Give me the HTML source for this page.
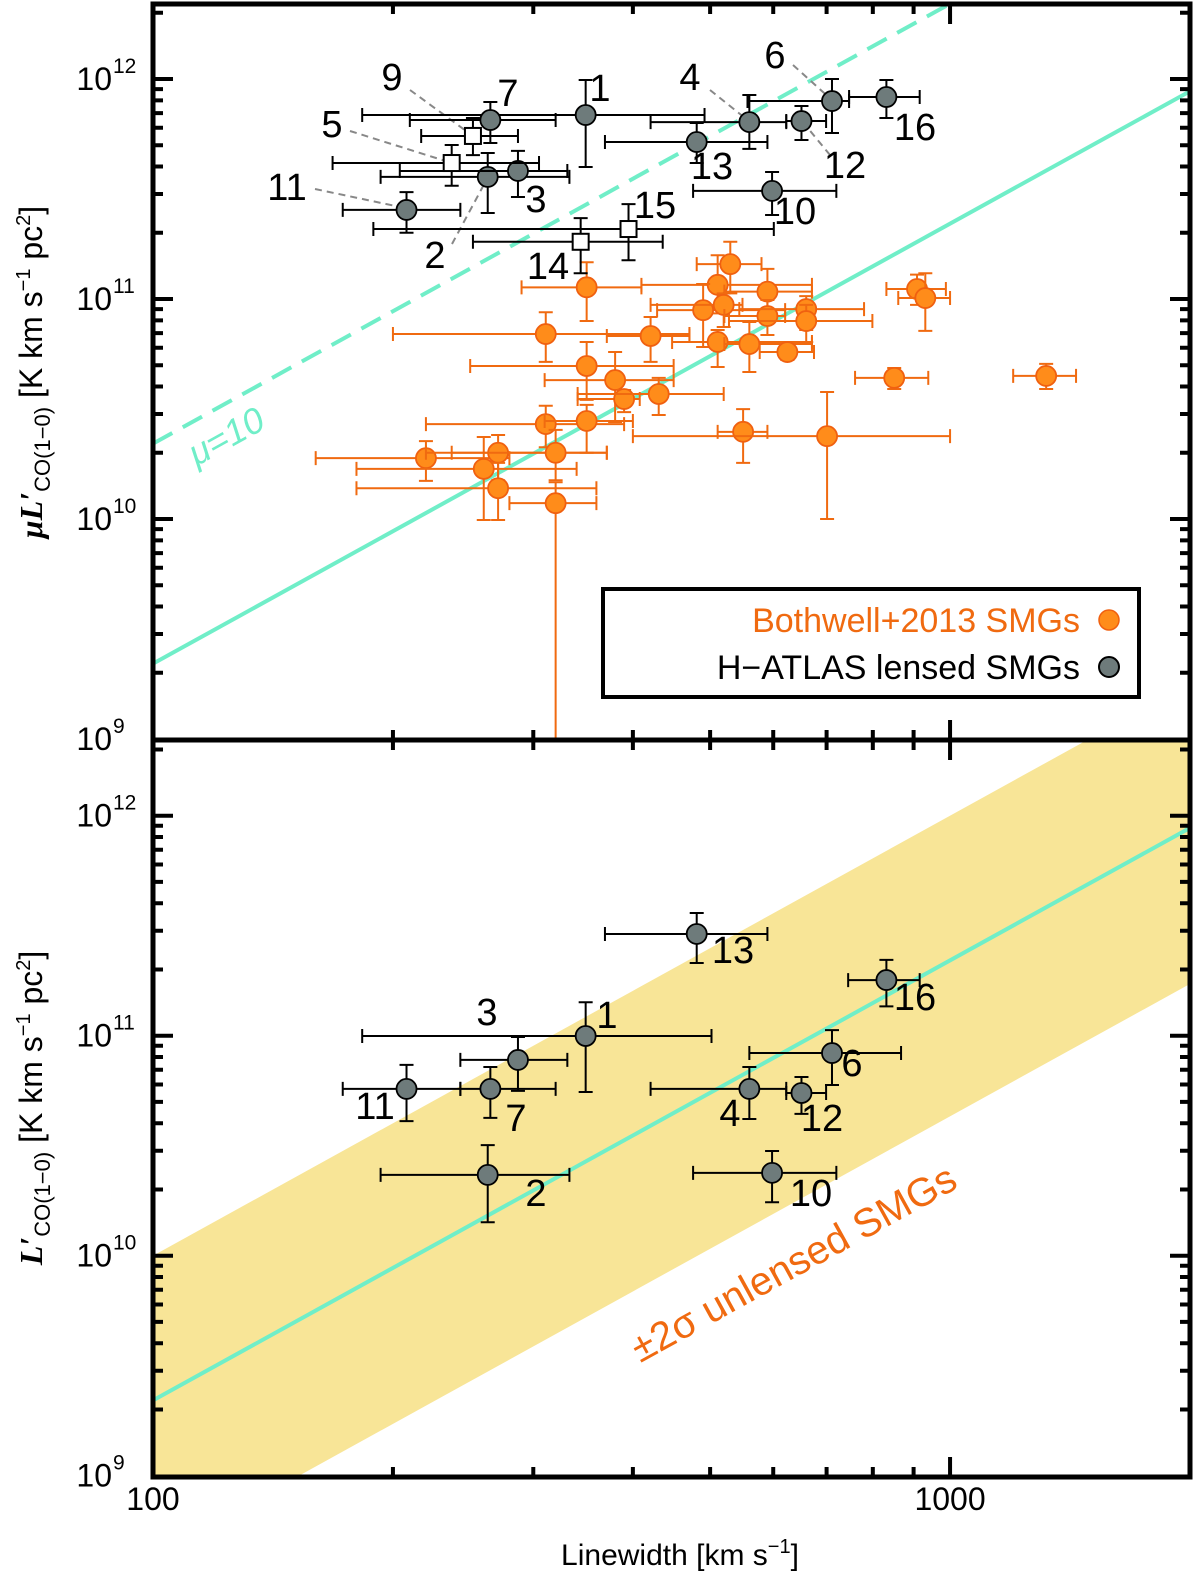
<!DOCTYPE html>
<html><head><meta charset="utf-8"><style>
body{margin:0;background:#fff}
svg text{font-family:"Liberation Sans","DejaVu Sans",sans-serif}
</style></head><body>
<svg id="chart" xmlns="http://www.w3.org/2000/svg" width="1200" height="1583" viewBox="0 0 1200 1583">
<defs>
<clipPath id="clipTop"><rect x="153" y="4" width="1037" height="736"/></clipPath>
<clipPath id="clipBot"><rect x="153" y="740" width="1037" height="737"/></clipPath>
</defs>
<g id="bandLayer" clip-path="url(#clipBot)"></g>
<g id="lineLayerTop" clip-path="url(#clipTop)"></g>
<g id="lineLayerBot" clip-path="url(#clipBot)"></g>
<g id="leaderLayer"></g>
<g id="orangeLayer" clip-path="url(#clipTop)"></g>
<g id="grayTopLayer" clip-path="url(#clipTop)"></g>
<g id="grayBotLayer" clip-path="url(#clipBot)"></g>
<g id="labelLayer"></g>
<g id="axisLayer"></g>

<text x="0" y="0" transform="translate(232,447) rotate(-28.9)" font-size="36" fill="#70eec8" text-anchor="middle" font-style="italic">μ=10</text>
<text x="0" y="0" transform="translate(800,1275) rotate(-28.9)" font-size="40" fill="#f06a10" text-anchor="middle">±2σ unlensed SMGs</text>

<g>
<rect x="603" y="589" width="536" height="108" fill="#fff" stroke="#000" stroke-width="4"/>
<text x="1080" y="632" font-size="34" fill="#f06a10" text-anchor="end">Bothwell+2013 SMGs</text>
<circle cx="1109" cy="620" r="10" fill="#ff8c1a" stroke="#f06010" stroke-width="1.5"/>
<text x="1080" y="679" font-size="34" fill="#000" text-anchor="end">H−ATLAS lensed SMGs</text>
<circle cx="1109" cy="667" r="10" fill="#6e7b7b" stroke="#000" stroke-width="2"/>
</g>

<text transform="translate(42,372) rotate(-90)" font-size="32" text-anchor="middle"><tspan font-family="Liberation Serif" font-style="italic" font-weight="bold">μL′</tspan><tspan font-size="22" dy="8">CO(1−0)</tspan><tspan dy="-8"> [K km s</tspan><tspan font-size="20" dy="-12">−1</tspan><tspan dy="12"> pc</tspan><tspan font-size="20" dy="-12">2</tspan><tspan dy="12">]</tspan></text>
<text transform="translate(42,1108) rotate(-90)" font-size="32" text-anchor="middle"><tspan font-family="Liberation Serif" font-style="italic" font-weight="bold">L′</tspan><tspan font-size="22" dy="8">CO(1−0)</tspan><tspan dy="-8"> [K km s</tspan><tspan font-size="20" dy="-12">−1</tspan><tspan dy="12"> pc</tspan><tspan font-size="20" dy="-12">2</tspan><tspan dy="12">]</tspan></text>
<text x="680" y="1565" font-size="30" text-anchor="middle">Linewidth  [km s<tspan font-size="20" dy="-12">−1</tspan><tspan dy="12">]</tspan></text>
</svg>
<script>
// ---- data ----
const grayTopIds = ["1","2","3","4","5","6","7","9","10","11","12","13","14","15","16"];
const grayTopV   = [349,263,287,560,237,711,265,252,598,208,651,481,344,395,832];
const grayTopVlo = [183,193,204,421,168,557,210,217,476,173,623,369,252,189,747];
const grayTopVhi = [492,333,331,623,305,747,320,287,720,243,699,590,436,601,916];
const grayTopL   = [6.86e11,3.59e11,3.82e11,6.37e11,4.15e11,7.94e11,6.51e11,5.51e11,3.10e11,2.54e11,6.44e11,5.17e11,1.82e11,2.08e11,8.28e11];
const grayTopLhi = [9.9e11,4.61e11,4.71e11,8.46e11,5.01e11,1.0e12,7.86e11,6.65e11,3.78e11,3.06e11,7.54e11,6.31e11,2.33e11,2.70e11,9.9e11];
const grayTopLlo = [3.98e11,2.46e11,2.91e11,4.81e11,3.27e11,5.68e11,5.12e11,4.51e11,2.41e11,2.0e11,5.28e11,4.15e11,1.31e11,1.50e11,6.65e11];
const grayTopSquare = [false,false,false,false,true,false,false,true,false,false,false,false,true,true,false];

const orV   = [350,530,511,590,490,520,590,660,660,311,421,511,560,625,909,931,851,1320,350,380,390,431,311,350,550,701,220,271,260,271,320,320];
const orVlo = [290,481,410,521,429,421,521,544,528,200,371,448,521,577,832,861,760,1200,250,310,341,341,220,310,511,400,160,220,180,180,237,280];
const orVhi = [410,580,671,671,621,549,621,780,799,471,471,671,671,675,988,1000,939,1439,450,450,408,520,390,400,590,1000,280,371,340,360,371,360];
const orL   = [1.13e11,1.44e11,1.16e11,1.08e11,8.9e10,9.4e10,8.37e10,9.0e10,7.94e10,6.93e10,6.79e10,6.38e10,6.24e10,5.74e10,1.11e11,1.01e11,4.38e10,4.47e10,4.96e10,4.28e10,3.51e10,3.70e10,2.70e10,2.79e10,2.49e10,2.38e10,1.89e10,2.0e10,1.69e10,1.38e10,2.0e10,1.18e10];
const orLhi = [1.47e11,1.82e11,1.58e11,1.37e11,1.17e11,1.06e11,9.9e10,1.03e11,9.4e10,8.7e10,8.28e10,7.23e10,7.86e10,5.93e10,1.29e11,1.31e11,4.86e10,5.07e10,6.38e10,5.74e10,3.86e10,4.38e10,3.27e10,3.30e10,3.16e10,3.78e10,2.26e10,2.41e10,2.36e10,1.80e10,2.54e10,1.47e10];
const orLlo = [7.94e10,1.06e11,8.6e10,8.46e10,6.05e10,7.46e10,6.86e10,7.23e10,6.38e10,5.18e10,5.18e10,4.91e10,4.66e10,5.28e10,9.4e10,7.16e10,3.90e10,3.90e10,3.48e10,2.76e10,3.06e10,2.97e10,2.12e10,2.0e10,1.80e10,1.0e10,1.49e10,1.50e10,9.9e9,9.9e9,1.50e10,5e8];

const grayBotIds = ["1","2","3","4","6","7","10","11","12","13","16"];
const grayBotV   = [349,263,287,560,711,265,598,208,651,481,832];
const grayBotVlo = [183,193,243,421,560,243,476,173,623,369,745];
const grayBotVhi = [502,333,331,623,868,320,720,243,699,590,916];
const grayBotL   = [9.97e10,2.33e10,7.76e10,5.73e10,8.34e10,5.73e10,2.38e10,5.73e10,5.49e10,2.90e11,1.79e11];
const grayBotLhi = [1.42e11,3.18e10,9.87e10,7.21e10,1.06e11,7.21e10,2.99e10,7.37e10,6.49e10,3.61e11,2.21e11];
const grayBotLlo = [5.55e10,1.42e10,5.61e10,4.18e10,5.97e10,4.23e10,1.75e10,4.09e10,4.41e10,2.14e11,1.36e11];

const fitNorm = 2.2e9, fitSlope = 2.0, lensMu = 10;
const bandUpperNorm = 1.0e10, bandLowerNorm = 4.3e8;
const xTickVals = [100,1000];
const xTickLabels = ["100","1000"];
const yTickExps = [9,10,11,12];

// ---- axes ----
const X0=153, X1=1190, XMIN=100, XMAX=2000;
const DEC=220;
function X(v){return X0+(Math.log10(v)-Math.log10(XMIN))*(X1-X0)/(Math.log10(XMAX)-Math.log10(XMIN));}
function Yt(L){return 79+(12-Math.log10(L))*DEC;}
function Yb(L){return 815.7+(12-Math.log10(L))*DEC;}
const NS="http://www.w3.org/2000/svg";
function mk(tag,attrs,parent){const e=document.createElementNS(NS,tag);for(const k in attrs)e.setAttribute(k,attrs[k]);parent.appendChild(e);return e;}
const fitL=v=>fitNorm*Math.pow(v/100,fitSlope);

// band
{const g=document.getElementById('bandLayer');const vs=[100,2000];
const pts=[[X(vs[0]),Yb(bandUpperNorm*Math.pow(vs[0]/100,fitSlope))],[X(vs[1]),Yb(bandUpperNorm*Math.pow(vs[1]/100,fitSlope))],[X(vs[1]),Yb(bandLowerNorm*Math.pow(vs[1]/100,fitSlope))],[X(vs[0]),Yb(bandLowerNorm*Math.pow(vs[0]/100,fitSlope))]];
const p=mk('polygon',{points:pts.map(q=>q.join(',')).join(' '),fill:'#f8e597'},g);

}
// lines
{const g=document.getElementById('lineLayerTop');
const l1=mk('line',{x1:X(100),y1:Yt(fitL(100)),x2:X(2000),y2:Yt(fitL(2000)),stroke:'#70eec8','stroke-width':4},g);


const l2=mk('line',{x1:X(100),y1:Yt(lensMu*fitL(100)),x2:X(2000),y2:Yt(lensMu*fitL(2000)),stroke:'#70eec8','stroke-width':4,'stroke-dasharray':'22 12'},g);


const gb=document.getElementById('lineLayerBot');
const l3=mk('line',{x1:X(100),y1:Yb(fitL(100)),x2:X(2000),y2:Yb(fitL(2000)),stroke:'#70eec8','stroke-width':4},gb);

}

function errPoint(g,Yf,v,vlo,vhi,L,Llo,Lhi,col,fill,edge,square,name){
  const gg=mk('g',{},g);
  
  
  const cx=X(v),cy=Yf(L),c=7;
  const d=`M${X(vlo)},${cy}H${X(vhi)}M${X(vlo)},${cy-c}V${cy+c}M${X(vhi)},${cy-c}V${cy+c}M${cx},${Yf(Lhi)}V${Yf(Llo)}M${cx-c},${Yf(Lhi)}H${cx+c}M${cx-c},${Yf(Llo)}H${cx+c}`;
  mk('path',{d:d,stroke:col,'stroke-width':2,fill:'none'},gg);
  if(square) mk('rect',{x:cx-8,y:cy-8,width:16,height:16,fill:'#fff',stroke:'#000','stroke-width':2},gg);
  else mk('circle',{cx:cx,cy:cy,r:10,fill:fill,stroke:edge,'stroke-width':1.8},gg);
}
{const g=document.getElementById('orangeLayer');
for(let i=0;i<orV.length;i++)errPoint(g,Yt,orV[i],orVlo[i],orVhi[i],orL[i],orLlo[i],orLhi[i],'#f06a10','#ff8c1a','#f06010',false,'bothwell-point-'+(i+1));}
{const g=document.getElementById('grayTopLayer');
for(let i=0;i<grayTopV.length;i++)errPoint(g,Yt,grayTopV[i],grayTopVlo[i],grayTopVhi[i],grayTopL[i],grayTopLlo[i],grayTopLhi[i],'#000','#6e7b7b','#000',grayTopSquare[i],'hatlas-top-'+grayTopIds[i]);}
{const g=document.getElementById('grayBotLayer');
for(let i=0;i<grayBotV.length;i++)errPoint(g,Yb,grayBotV[i],grayBotVlo[i],grayBotVhi[i],grayBotL[i],grayBotLlo[i],grayBotLhi[i],'#000','#6e7b7b','#000',false,'hatlas-bottom-'+grayBotIds[i]);}

// labels
const topLabels=[["9",392,90],["7",508,106],["1",600,101],["5",332,137],["11",287,200],["3",536,212],["2",435,268],["14",548,279],["15",655,218],["4",690,90],["6",775,68],["13",712,179],["12",845,178],["10",795,224],["16",915,140]];
const botLabels=[["13",733,963],["16",915,1010],["1",607,1028],["3",487,1025],["6",852,1076],["11",375,1119],["7",516,1131],["4",730,1126],["12",822,1131],["2",536,1206],["10",811,1206]];
{const g=document.getElementById('labelLayer');
topLabels.forEach(l=>{const t=mk('text',{x:l[1],y:l[2],'font-size':38,'text-anchor':'middle'},g);t.textContent=l[0];

});
botLabels.forEach(l=>{const t=mk('text',{x:l[1],y:l[2],'font-size':38,'text-anchor':'middle'},g);t.textContent=l[0];

});}
const leaders=[[410,90,473,136],[350,131,452,163],[315,189,405,208],[452,244,488,177],[710,90,750,122],[793,65,833,101],[830,155,802,121]];
{const g=document.getElementById('leaderLayer');
leaders.forEach((q,i)=>{const l=mk('line',{x1:q[0],y1:q[1],x2:q[2],y2:q[3],stroke:'#888','stroke-width':2,'stroke-dasharray':'7 5'},g);

});}

// axes frame & ticks
{const g=document.getElementById('axisLayer');
const fr=mk('rect',{x:X0,y:4,width:X1-X0,height:1473,fill:'none',stroke:'#000','stroke-width':5},g);


const dv=mk('line',{x1:X0,y1:740,x2:X1,y2:740,stroke:'#000','stroke-width':5},g);


let d='';
[Yt,Yb].forEach((Yf,pi)=>{
  const lo=pi?740:4, hi=pi?1477:740;
  for(let e=8;e<=12;e++)for(let m=1;m<=9;m++){const y=Yf(m*Math.pow(10,e));if(y<lo+2||y>hi-2)continue;const len=m==1?20:10;d+=`M${X0},${y}h${len}M${X1},${y}h${-len}`;}
});
for(let e=2;e<=3;e++)for(let m=1;m<=9;m++){const v=m*Math.pow(10,e);if(v>XMAX||v<=XMIN)continue;const x=X(v);const len=m==1?20:10;d+=`M${x},1477v${-len}M${x},4v${len}M${x},740v${-len}M${x},740v${len}`;}
const tp=mk('path',{d:d,stroke:'#000','stroke-width':4,fill:'none'},g);


xTickVals.forEach((v,i)=>{const t=mk('text',{x:X(v),y:1510,'font-size':32,'text-anchor':'middle'},g);t.textContent=xTickLabels[i];

});
[Yt,Yb].forEach((Yf,pi)=>{yTickExps.forEach(e=>{const y=Yf(Math.pow(10,e));
const t=mk('text',{x:112,y:y+11,'font-size':32,'text-anchor':'end'},g);t.textContent='10';


const s=mk('text',{x:113,y:y-6,'font-size':21,'text-anchor':'start'},g);s.textContent=String(e);

});});}
</script>
</body></html>
